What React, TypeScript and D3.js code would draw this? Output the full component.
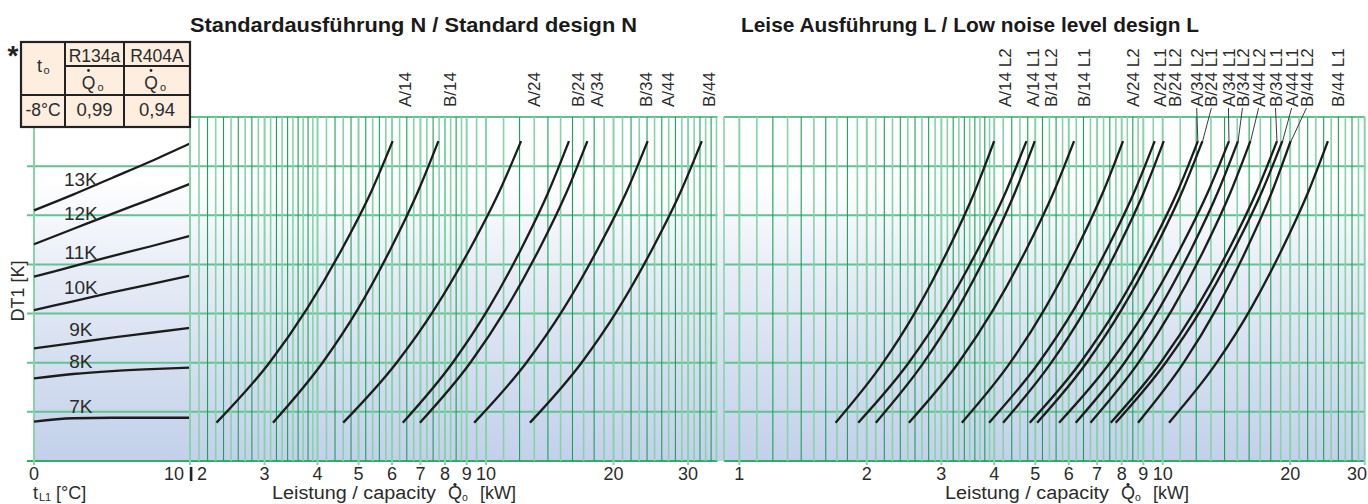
import React from 'react';
import * as d3 from 'd3';

const W = 1368;
const H = 504;

// ---------- Left panel: DT1 curves vs t_L1 [°C] ----------
const T_L1 = [0, 2.5, 5, 7.5, 10];
const DT_LABELS = ['13K', '12K', '11K', '10K', '9K', '8K', '7K'];
const DT13 = [5.1, 5.42, 5.76, 6.1, 6.46];
const DT12 = [4.41, 4.72, 5.03, 5.33, 5.64];
const DT11 = [3.75, 3.96, 4.17, 4.37, 4.58];
const DT10 = [3.07, 3.25, 3.43, 3.6, 3.77];
const DT9 = [2.29, 2.4, 2.51, 2.61, 2.71];
const DT8 = [1.68, 1.77, 1.83, 1.87, 1.9];
const DT7 = [0.8, 0.87, 0.88, 0.88, 0.88];
const DT_CURVES = [DT13, DT12, DT11, DT10, DT9, DT8, DT7];

// DT1 axis positions (grid units) at which each capacity curve was read
const U_PTS = [0.78, 2.0, 3.1, 4.3, 5.5, 6.51];

// ---------- Middle panel: Standard design N, capacity [kW] ----------
const N_A14 = [2.31, 3.08, 3.78, 4.56, 5.37, 6.02];
const N_B14 = [3.14, 4.11, 4.99, 5.94, 6.92, 7.72];
const N_A24 = [4.6, 6.15, 7.57, 9.14, 10.77, 12.1];
const N_B24 = [6.36, 8.34, 10.13, 12.08, 14.08, 15.7];
const N_A34 = [6.98, 9.18, 11.16, 13.33, 15.55, 17.35];
const N_B34 = [9.38, 12.45, 15.25, 18.32, 21.52, 24.08];
const N_B44 = [12.7, 16.81, 20.54, 24.64, 28.88, 32.32];
const N_CURVES = [N_A14, N_B14, N_A24, N_B24, N_A34, N_B34, N_B44];
const N_LABELS = ['A/14', 'B/14', 'A/24', 'B/24', 'A/34', 'B/34', 'A/44', 'B/44'];
const N_LABEL_KW = [6.44, 8.2, 12.95, 16.5, 18.28, 23.87, 26.83, 33.55];
const N_TICKS = [2, 3, 4, 5, 6, 7, 8, 9, 10, 20, 30];
const N_GRID_STEPS = [[2, 4, 0.1], [4, 6, 0.2], [6, 8, 0.25], [8, 9, 0.25], [9, 10, 0.5], [10, 35, 1]];

// ---------- Right panel: Low noise level design L ----------
const L_A14_L2 = [1.688, 2.186, 2.632, 3.113, 3.605, 3.998];
const L_A14_L1 = [1.909, 2.512, 3.058, 3.656, 4.272, 4.767];
const L_B14_L2 = [2.101, 2.724, 3.281, 3.882, 4.495, 4.987];
const L_B14_L1 = [2.515, 3.293, 3.993, 4.759, 5.545, 6.174];
const L_A24_L2 = [3.354, 4.363, 5.269, 6.249, 7.252, 8.059];
const L_A24_L1 = [3.89, 5.096, 6.185, 7.371, 8.594, 9.574];
const L_B24_L2 = [4.198, 5.455, 6.583, 7.803, 9.055, 10.06];
const L_A34_L2 = [4.853, 6.388, 7.776, 9.292, 10.86, 12.11];
const L_B24_L1 = [5.051, 6.612, 8.024, 9.559, 11.14, 12.41];
const L_A34_L1 = [5.692, 7.508, 9.162, 10.97, 12.83, 14.34];
const L_B34_L2 = [6.231, 8.121, 9.817, 11.66, 13.54, 15.06];
const L_A44_L2 = [6.751, 8.764, 10.56, 12.52, 14.51, 16.11];
const L_B34_L1 = [7.538, 9.886, 12.0, 14.32, 16.7, 18.62];
const L_A44_L1 = [7.745, 10.16, 12.36, 14.74, 17.19, 19.17];
const L_B44_L2 = [8.745, 11.21, 13.4, 15.76, 18.16, 20.05];
const L_B44_L1 = [10.35, 13.41, 16.15, 19.11, 22.13, 24.56];
const L_CURVES = [
  L_A14_L2, L_A14_L1, L_B14_L2, L_B14_L1, L_A24_L2, L_A24_L1, L_B24_L2, L_A34_L2,
  L_B24_L1, L_A34_L1, L_B34_L2, L_A44_L2, L_B34_L1, L_A44_L1, L_B44_L2, L_B44_L1,
];
const L_LABELS = [
  'A/14 L2', 'A/14 L1', 'B/14 L2', 'B/14 L1', 'A/24 L2', 'A/24 L1', 'B/24 L2', 'A/34 L2',
  'B/24 L1', 'A/34 L1', 'B/34 L2', 'A/44 L2', 'B/34 L1', 'A/44 L1', 'B/44 L2', 'B/44 L1',
];
const L_LABEL_KW = [4.24, 4.93, 5.43, 6.5, 8.5, 9.84, 10.71, 12.03, 13.03, 14.3, 15.43, 16.85, 18.47, 20.16, 21.85, 25.86];
const L_LEADER = [0, 0, 0, 0, 0, 0, 0, 1, 1, 1, 1, 1, 1, 1, 1, 0];
const L_TICKS = [1, 2, 3, 4, 5, 6, 7, 8, 9, 10, 20, 30];
const L_GRID_STEPS = [[1, 4, 0.1], [4, 6, 0.2], [6, 8, 0.25], [8, 9, 0.25], [9, 10, 0.5], [10, 30, 1]];

// ---------- Table ----------
const TABLE_HEAD = ['R134a', 'R404A'];
const TABLE_T0 = '-8°C';
const TABLE_VALUES = ['0,99', '0,94'];

const Y_GRID = [0, 1, 2, 3, 4, 5, 6, 7];

// layout
const TOP = 117;
const BOTTOM = 461;
const yScale = d3.scaleLinear().domain([0, 7]).range([BOTTOM, TOP]);
const xL = d3.scaleLinear().domain([0, 10]).range([34, 190]);
const xN = d3.scaleLog().domain([2, 35.2]).range([190, 717.5]);
const xR = d3.scaleLog().domain([0.92, 30]).range([724, 1364.7]);

const FONT = "'Liberation Sans', Arial, Helvetica, sans-serif";
const TXT = '#2b2b2b';
const DARK_V = '#17a355';
const LIGHT_V = '#86d3a9';
const H_LINE = '#62c291';
const CURVE = '#1c1c1c';
const TICK_Y = 480;
const TITLE_Y = 498.5;

function gridVals(steps: number[][], end: number): number[] {
  const out: number[] = [];
  steps.forEach(([a, b, s]) => {
    const n = Math.round((b - a) / s);
    for (let i = 0; i < n; i++) out.push(Math.round((a + i * s) * 1000) / 1000);
  });
  out.push(end);
  return out;
}

function curvePath(x: (v: number) => number, xs: number[], ys: number[]) {
  const pts = xs.map((v, i) => [v, ys[i]] as [number, number]);
  return d3
    .line<[number, number]>()
    .x((d) => x(d[0]))
    .y((d) => yScale(d[1]))
    .curve(d3.curveMonotoneX)(pts) as string;
}

function LogPanel(props: {
  x: any;
  grid: number[];
  ticks: number[];
  curves: number[][];
  labels: string[];
  labelKw: number[];
  leader?: number[];
  firstDx?: number;
  lastEnd?: number;
}) {
  const { x, grid, ticks, curves, labels, labelKw, leader, firstDx, lastEnd } = props;
  const [x0, x1] = x.range();
  return (
    <g>
      {Y_GRID.map((u) => (
        <line key={'h' + u} x1={x0} x2={x1} y1={yScale(u)} y2={yScale(u)}
          stroke={u === 0 ? '#2fae67' : H_LINE} strokeWidth={2} />
      ))}
      <line x1={x0} x2={x0} y1={TOP} y2={BOTTOM} stroke={LIGHT_V} strokeWidth={1.6} />
      {grid.map((v, i) => {
        const major = ticks.indexOf(v) >= 0;
        const light = major || i % 2 === 1;
        return (
          <line key={'v' + v} x1={x(v)} x2={x(v)} y1={TOP} y2={major ? BOTTOM + 4 : BOTTOM}
            stroke={light ? LIGHT_V : DARK_V} strokeWidth={major ? 2 : light ? 1.6 : 1.1} />
        );
      })}
      {curves.map((c, i) => (
        <path key={'c' + i} d={curvePath(x, c, U_PTS)} fill="none" stroke={CURVE} strokeWidth={2.3} />
      ))}
      {labels.map((lab, i) => (
        <text key={'l' + i} transform={`translate(${x(labelKw[i])},107) rotate(-90)`} dy="0.36em"
          fontSize={17} fill={TXT} fontFamily={FONT}>{lab}</text>
      ))}
      {leader && labels.map((lab, i) => {
        if (!leader[i]) return null;
        const c = curves[i];
        return (
          <line key={'ld' + i} x1={x(labelKw[i])} y1={108} x2={x(c[c.length - 1])} y2={yScale(U_PTS[U_PTS.length - 1]) + 1}
            stroke="#3a3a3a" strokeWidth={1} />
        );
      })}
      {ticks.map((v, i) => {
        let tx = x(v);
        let anchor: any = 'middle';
        if (i === 0 && firstDx) tx += firstDx;
        if (i === ticks.length - 1 && lastEnd) { tx = lastEnd; anchor = 'end'; }
        return (
          <text key={'t' + v} x={tx} y={TICK_Y} textAnchor={anchor} fontSize={18} fill={TXT} fontFamily={FONT}>{v}</text>
        );
      })}
    </g>
  );
}

function QLabel(props: { x: number }) {
  const x = props.x;
  return (
    <g fontFamily={FONT} fill={TXT}>
      <text x={x} y={TITLE_Y} fontSize={18} textLength={164} lengthAdjust="spacingAndGlyphs">Leistung / capacity</text>
      <text x={x + 176} y={TITLE_Y} fontSize={18}>Q</text>
      <text x={x + 190} y={501} fontSize={10.5}>o</text>
      <circle cx={x + 183} cy={484.5} r={1.6} fill="#222" />
      <text x={x + 208} y={TITLE_Y} fontSize={18}>[kW]</text>
    </g>
  );
}

export default function App() {
  const nGrid = gridVals(N_GRID_STEPS, 35);
  const lGrid = gridVals(L_GRID_STEPS, 30);
  const cols = [21, 65, 124, 190];
  const rows = [42, 66, 95, 127];
  const labelT = 3;
  const interp = (ys: number[]) => d3.scaleLinear().domain(T_L1).range(ys)(labelT);

  return (
    <svg width={W} height={H} style={{ position: 'absolute', left: 0, top: 0, background: '#fff' }}>
      <defs>
        <linearGradient id="bg" gradientUnits="userSpaceOnUse" x1={0} y1={TOP} x2={0} y2={BOTTOM}>
          <stop offset="0" stopColor="#ffffff" />
          <stop offset="0.18" stopColor="#ffffff" />
          <stop offset="0.45" stopColor="#e7ecf6" />
          <stop offset="1" stopColor="#c2d0ea" />
        </linearGradient>
      </defs>

      <rect x={34} y={TOP} width={1365 - 34} height={BOTTOM - TOP} fill="url(#bg)" />

      {/* Left panel */}
      <g>
        {Y_GRID.map((u) => (
          <line key={'lh' + u} x1={27} x2={190} y1={yScale(u)} y2={yScale(u)}
            stroke={u === 0 ? '#2fae67' : H_LINE} strokeWidth={2} />
        ))}
        {[0, 10].map((v) => (
          <line key={'lv' + v} x1={xL(v)} x2={xL(v)} y1={TOP} y2={BOTTOM + 4} stroke={LIGHT_V} strokeWidth={2} />
        ))}
        {DT_CURVES.map((c, i) => (
          <path key={'dt' + i} d={curvePath(xL, T_L1, c)} fill="none" stroke={CURVE} strokeWidth={2.3} />
        ))}
        {DT_CURVES.map((c, i) => (
          <text key={'dtl' + i} x={xL(labelT)} y={yScale(interp(c)) - 5.5} textAnchor="middle"
            fontSize={19} fill={TXT} fontFamily={FONT}>{DT_LABELS[i]}</text>
        ))}
        <text x={xL(0)} y={TICK_Y} textAnchor="middle" fontSize={18} fill={TXT} fontFamily={FONT}>0</text>
        <text x={184} y={TICK_Y} textAnchor="end" fontSize={18} fill={TXT} fontFamily={FONT}>10</text>
        <rect x={189.8} y={467} width={2.6} height={14} fill="#222" />
        <text transform="translate(24,291) rotate(-90)" textAnchor="middle" fontSize={18} fill={TXT} fontFamily={FONT}>DT1 [K]</text>
        <g fontFamily={FONT} fill={TXT}>
          <text x={33} y={TITLE_Y} fontSize={18}>t</text>
          <text x={39} y={501} fontSize={11}>L1</text>
          <text x={56} y={TITLE_Y} fontSize={18}>[°C]</text>
        </g>
      </g>

      {/* Middle panel */}
      <LogPanel x={xN} grid={nGrid} ticks={N_TICKS} curves={N_CURVES} labels={N_LABELS} labelKw={N_LABEL_KW} firstDx={12} />
      <QLabel x={272} />

      {/* Right panel */}
      <LogPanel x={xR} grid={lGrid} ticks={L_TICKS} curves={L_CURVES} labels={L_LABELS} labelKw={L_LABEL_KW}
        leader={L_LEADER} lastEnd={1367} />
      <QLabel x={945} />

      {/* Titles */}
      <text x={190} y={32} fontSize={21} fontWeight="bold" fill="#1a1a1a" fontFamily={FONT}
        textLength={447} lengthAdjust="spacingAndGlyphs">Standardausführung N / Standard design  N</text>
      <text x={741} y={32} fontSize={21} fontWeight="bold" fill="#1a1a1a" fontFamily={FONT}
        textLength={458} lengthAdjust="spacingAndGlyphs">Leise Ausführung L / Low noise level design L</text>

      {/* Table */}
      <g fontFamily={FONT} fill={TXT}>
        <rect x={cols[0]} y={rows[0]} width={cols[3] - cols[0]} height={rows[3] - rows[0]} fill="#fdeee0" stroke="#222" strokeWidth={2.2} />
        <line x1={cols[1]} x2={cols[1]} y1={rows[0]} y2={rows[3]} stroke="#222" strokeWidth={2} />
        <line x1={cols[2]} x2={cols[2]} y1={rows[0]} y2={rows[3]} stroke="#222" strokeWidth={2} />
        <line x1={cols[1]} x2={cols[3]} y1={rows[1]} y2={rows[1]} stroke="#222" strokeWidth={2} />
        <line x1={cols[0]} x2={cols[3]} y1={rows[2]} y2={rows[2]} stroke="#222" strokeWidth={2} />
        <text x={37} y={72} fontSize={18}>t</text>
        <text x={43.5} y={74} fontSize={11}>o</text>
        {TABLE_HEAD.map((h, i) => (
          <text key={h} x={(cols[i + 1] + cols[i + 2]) / 2} y={62} textAnchor="middle" fontSize={17.5}>{h}</text>
        ))}
        {TABLE_HEAD.map((h, i) => {
          const cx = (cols[i + 1] + cols[i + 2]) / 2;
          return (
            <g key={'q' + h}>
              <text x={cx - 6} y={89} textAnchor="middle" fontSize={17.5}>Q</text>
              <circle cx={cx - 6} cy={70.5} r={1.4} fill="#222" />
              <text x={cx + 6} y={91} textAnchor="middle" fontSize={11}>o</text>
            </g>
          );
        })}
        <text x={(cols[0] + cols[1]) / 2} y={116} textAnchor="middle" fontSize={17.5}>{TABLE_T0}</text>
        {TABLE_VALUES.map((v, i) => (
          <text key={v} x={(cols[i + 1] + cols[i + 2]) / 2} y={116} textAnchor="middle" fontSize={18.5}>{v}</text>
        ))}
      </g>
      <text x={13} y={65} textAnchor="middle" fontSize={28} fontWeight="bold" fill="#222" fontFamily={FONT}>*</text>
    </svg>
  );
}
